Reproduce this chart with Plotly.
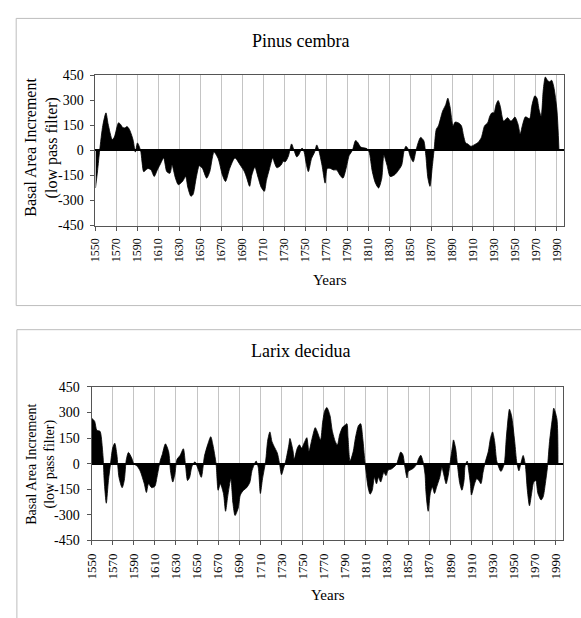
import plotly.graph_objects as go

# ---------------- data ----------------
tick_years = list(range(1550, 1991, 20))
tick_labels = [str(y) for y in tick_years]
y_ticks = [-450, -300, -150, 0, 150, 300, 450]
y_tick_labels = ["-450", "-300", "-150", "0", "150", "300", "450"]

pinus_years = [1550, 1552, 1554, 1557, 1560, 1562, 1566, 1568, 1572, 1574, 1576, 1578, 1580, 1582,
               1584, 1586, 1588, 1590, 1593, 1596, 1598, 1600, 1603, 1606, 1609, 1612, 1615, 1618,
               1621, 1623, 1626, 1629, 1633, 1636, 1638, 1641, 1643, 1646, 1649, 1652, 1656, 1659,
               1661, 1663, 1667, 1671, 1674, 1678, 1683, 1688, 1692, 1694, 1697, 1699, 1702, 1705,
               1708, 1711, 1713, 1716, 1719, 1721, 1723, 1727, 1729, 1731, 1734, 1737, 1739, 1742,
               1744, 1747, 1749, 1751, 1753, 1756, 1759, 1761, 1763, 1766, 1769, 1771, 1774, 1777,
               1780, 1783, 1786, 1789, 1792, 1795, 1798, 1800, 1803, 1807, 1809, 1811, 1814, 1817,
               1820, 1823, 1825, 1828, 1831, 1835, 1838, 1842, 1844, 1846, 1848, 1850, 1853, 1856,
               1860, 1863, 1865, 1867, 1869, 1871, 1873, 1875, 1877, 1881, 1884, 1886, 1888, 1891,
               1893, 1897, 1899, 1901, 1903, 1905, 1908, 1911, 1915, 1918, 1921, 1924, 1926, 1928,
               1930, 1932, 1934, 1936, 1939, 1941, 1943, 1946, 1948, 1950, 1953, 1955, 1957, 1960,
               1964, 1966, 1969, 1971, 1973, 1975, 1977, 1979, 1981, 1983, 1985, 1987, 1990, 1992]
pinus_bai = [-225, -120, 0, 150, 225, 160, 65, 80, 166, 155, 137, 135, 143, 130,
             100, 59, -10, 45, 0, -127, -117, -108, -117, -156, -117, -80, -45, -127,
             -137, -88, -160, -205, -186, -156, -220, -274, -264, -166, -92, -108, -166, -127,
             -60, -10, -49, -147, -186, -108, -45, -88, -127, -160, -215, -150, -100, -160,
             -220, -245, -180, -108, -45, -80, -104, -88, -65, -68, -33, 39, 6, -39,
             -25, 14, -10, -80, -127, -49, -10, 33, 0, -88, -196, -108, -108, -117,
             -117, -147, -166, -108, -29, 0, 59, 49, 20, 14, 10, -10, -127, -196,
             -225, -166, -29, -88, -156, -147, -127, -88, -10, 25, 10, -33, -68, 10,
             78, 59, -29, -166, -215, -108, 10, 127, 147, 235, 274, 313, 264, 147,
             170, 162, 147, 88, 45, 39, 25, 33, 49, 78, 147, 166, 205, 225,
             225, 274, 299, 264, 176, 186, 196, 176, 186, 200, 156, 98, 147, 201,
             190, 264, 327, 313, 245, 205, 362, 440, 420, 411, 420, 381, 245, 0]

larix_years = [1550, 1551, 1553, 1555, 1558, 1559, 1561, 1562, 1564, 1566, 1568, 1570, 1572, 1574,
               1576, 1579, 1581, 1583, 1585, 1588, 1590, 1593, 1596, 1600, 1602, 1604, 1607, 1610,
               1612, 1615, 1617, 1620, 1623, 1625, 1627, 1629, 1631, 1634, 1637, 1639, 1641, 1643,
               1645, 1648, 1651, 1654, 1657, 1660, 1663, 1665, 1668, 1670, 1672, 1675, 1677, 1679,
               1682, 1684, 1686, 1689, 1691, 1694, 1697, 1700, 1702, 1705, 1706, 1708, 1710, 1712,
               1715, 1717, 1719, 1721, 1723, 1726, 1728, 1730, 1732, 1734, 1737, 1738, 1741, 1742,
               1745, 1747, 1749, 1752, 1754, 1756, 1759, 1762, 1764, 1767, 1769, 1771, 1773, 1776,
               1778, 1781, 1783, 1785, 1788, 1790, 1792, 1793, 1795, 1798, 1800, 1803, 1805, 1807,
               1809, 1812, 1814, 1816, 1818, 1820, 1822, 1824, 1827, 1829, 1831, 1834, 1836, 1839,
               1841, 1843, 1845, 1847, 1849, 1850, 1852, 1855, 1858, 1860, 1862, 1864, 1866, 1867,
               1869, 1871, 1873, 1875, 1877, 1880, 1882, 1884, 1886, 1888, 1890, 1892, 1893, 1895,
               1897, 1899, 1901, 1903, 1904, 1906, 1907, 1909, 1910, 1913, 1915, 1917, 1919, 1921,
               1923, 1926, 1928, 1930, 1932, 1934, 1937, 1938, 1941, 1943, 1945, 1946, 1948, 1951,
               1953, 1955, 1957, 1959, 1961, 1963, 1965, 1967, 1969, 1971, 1973, 1976, 1978, 1980,
               1982, 1984, 1987, 1988, 1991, 1992]
larix_bai = [265, 262, 247, 196, 190, 167, 34, -99, -232, -99, 0, 91, 120, 53,
             -80, -141, -99, 25, 66, 34, 0, -13, -42, -118, -169, -118, -141, -133,
             -80, 15, 53, 116, 72, -51, -108, -61, 25, 49, 87, -4, -99, -80,
             -19, 11, -32, -80, 44, 110, 158, 110, 0, -156, -118, -175, -279, -194,
             -89, -232, -304, -260, -184, -156, -141, -110, -42, 6, 15, -23, -175, -89,
             15, 139, 186, 129, 101, 63, 6, -65, -27, 15, 110, 148, 72, 25,
             91, 110, 91, 129, 152, 72, 148, 211, 186, 139, 243, 310, 329, 281,
             196, 129, 110, 167, 215, 224, 234, 158, 15, 72, 148, 224, 234, 148,
             15, -137, -179, -156, -80, -118, -80, -108, -51, -70, -38, -32, -23, -4,
             34, 68, 53, -23, -84, -46, -38, -27, -4, 30, 49, 15, -61, -175,
             -279, -175, -137, -175, -137, -80, -23, -70, -118, -70, 15, 101, 139, 91,
             -23, -118, -156, -99, -13, 15, -23, -118, -184, -118, -89, -99, -118, -51,
             6, 72, 148, 186, 129, 15, -38, -46, -4, 148, 281, 319, 281, 129,
             6, -42, 6, 48, -4, -156, -247, -175, -108, -99, -175, -213, -194, -118,
             -23, 129, 281, 325, 262, 0]

# ---------------- layout helpers (pixel -> paper) ----------------
W, H = 581, 618
def fx(px):
    return px / W
def fy(py):
    return 1 - py / H

SERIF = "Liberation Serif, Times New Roman, serif"

fig = go.Figure()
for yrs, vals, xa, ya in [(pinus_years, pinus_bai, "x", "y"),
                          (larix_years, larix_bai, "x2", "y2")]:
    fig.add_trace(go.Scatter(
        x=yrs, y=vals, mode="lines",
        line=dict(color="black", width=0.8, shape="spline", smoothing=0.7),
        fill="tozeroy", fillcolor="black",
        xaxis=xa, yaxis=ya, hoverinfo="skip", showlegend=False))

def xaxis_cfg(domain, anchor, fsize):
    return dict(domain=domain, anchor=anchor, range=[1550, 1997],
                tickmode="array", tickvals=tick_years, ticktext=tick_labels,
                tickangle=-90, tickfont=dict(family=SERIF, size=fsize, color="black"),
                showgrid=True, gridcolor="#c4c4c4", gridwidth=1,
                showline=True, linecolor="#555555", linewidth=1, mirror=True,
                ticks="outside", ticklen=4, tickcolor="#555555",
                ticklabelstandoff=3, zeroline=False, fixedrange=True)

def yaxis_cfg(domain, anchor):
    return dict(domain=domain, anchor=anchor, range=[-450, 450],
                tickmode="array", tickvals=y_ticks, ticktext=y_tick_labels,
                tickfont=dict(family=SERIF, size=14, color="black"),
                showgrid=False, zeroline=True, zerolinecolor="black", zerolinewidth=1.5,
                showline=True, linecolor="#555555", linewidth=1, mirror=True,
                ticks="outside", ticklen=4, tickcolor="#555555",
                ticklabelstandoff=4, fixedrange=True)

fig.update_layout(
    width=W, height=H, margin=dict(l=0, r=0, t=0, b=0),
    paper_bgcolor="white", plot_bgcolor="white",
    xaxis=xaxis_cfg([fx(88.7), fx(564)], "y", 12),
    yaxis=yaxis_cfg([fy(224), fy(70)], "x"),
    xaxis2=xaxis_cfg([fx(84.7), fx(563)], "y2", 13),
    yaxis2=yaxis_cfg([fy(546.7), fy(389.3)], "x2"),
)

# outer chart frames
fig.add_shape(type="rect", xref="paper", yref="paper",
              x0=fx(8.3), x1=1.05, y0=fy(306), y1=fy(11.7),
              line=dict(color="#bdbdbd", width=1), layer="below")
fig.add_shape(type="rect", xref="paper", yref="paper",
              x0=fx(9), x1=1.05, y0=-0.05, y1=fy(330.7),
              line=dict(color="#bdbdbd", width=1), layer="below")

def label(text, x, y, size, angle=0):
    fig.add_annotation(text=text, x=fx(x), y=fy(y), xref="paper", yref="paper",
                       showarrow=False, textangle=angle, xanchor="center", yanchor="middle",
                       font=dict(family=SERIF, size=size, color="black"))

label("Pinus cembra", 297, 35, 18)
label("Larix decidua", 297, 353, 18)
label("Basal Area Increment", 22.5, 144, 16, -90)
label("(low pass filter)", 44.5, 144, 16, -90)
label("Basal Area Increment", 23, 468.5, 14, -90)
label("(low pass filter)", 43, 468.5, 14, -90)
label("Years", 326, 280, 15)
label("Years", 324, 603, 15)

fig.write_html(
    "out.html",
    config={"displayModeBar": False},
    post_script="document.body.style.margin='0';document.body.style.overflow='hidden';",
)
